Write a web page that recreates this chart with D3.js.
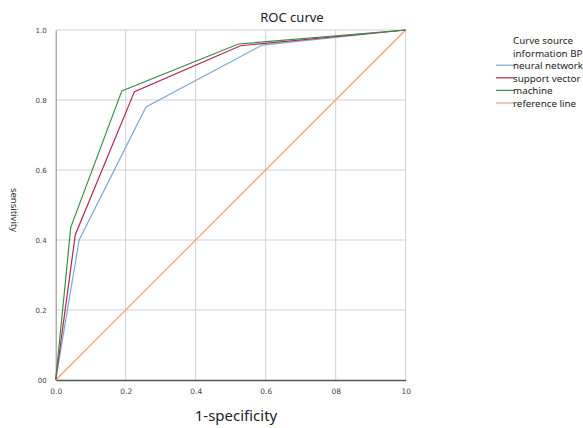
<!DOCTYPE html>
<html>
<head>
<meta charset="utf-8">
<script src="https://cdn.jsdelivr.net/npm/d3@7"></script>
<style>
  html, body { margin: 0; padding: 0; background: #fff; }
  svg { display: block; font-family: "Noto Sans", "Open Sans", sans-serif; }
</style>
</head>
<body>
<div id="chart"></div>
<script>
// ROC curve values
const neuralNet = [[0, 0], [0.067, 0.40], [0.258, 0.78], [0.59, 0.957], [1, 1]];
const supportVec = [[0, 0], [0.056, 0.415], [0.225, 0.824], [0.528, 0.955], [1, 1]];
const machine = [[0, 0], [0.043, 0.436], [0.189, 0.826], [0.522, 0.96], [1, 1]];
const referenceLine = [[0, 0], [1, 1]];
const tickValues = [0, 0.2, 0.4, 0.6, 0.8, 1.0];
const xTickLabels = ["0.0", "0.2", "0.4", "0.6", "08", "10"];
const yTickLabels = ["00", "0.2", "0.4", "0.6", "0.8", "1.0"];
const legendTitle = ["Curve source", "information BP"];
const legendItems = ["neural network", "support vector", "machine", "reference line"];

const width = 583, height = 428;
const svg = d3.select("#chart").append("svg")
  .attr("width", width).attr("height", height);

const x = d3.scaleLinear().domain([0, 1]).range([55.7, 405.7]);
const y = d3.scaleLinear().domain([0, 1]).range([380, 30]);

// grid
const grid = svg.append("g");
grid.selectAll("line.v").data(tickValues.slice(1)).join("line")
  .attr("x1", d => x(d)).attr("x2", d => x(d))
  .attr("y1", y(0)).attr("y2", y(1))
  .attr("stroke", "#d0d0d0").attr("stroke-width", 1);
grid.selectAll("line.h").data(tickValues.slice(1)).join("line")
  .attr("x1", x(0)).attr("x2", x(1))
  .attr("y1", d => y(d)).attr("y2", d => y(d))
  .attr("stroke", "#d0d0d0").attr("stroke-width", 1);

// axes
const xAxis = svg.append("g")
  .attr("transform", `translate(0,${y(0)})`)
  .call(d3.axisBottom(x).tickValues(tickValues).tickSize(0)
    .tickFormat((d, i) => xTickLabels[i]));
xAxis.select(".domain").attr("stroke", "#555").attr("stroke-width", 1.3);
xAxis.selectAll("text").attr("dy", "1.5em").attr("font-size", 7.5).attr("fill", "#444")
  .attr("font-family", "DejaVu Sans");

const yAxis = svg.append("g")
  .attr("transform", `translate(${x(0)},0)`)
  .call(d3.axisLeft(y).tickValues(tickValues).tickSize(0)
    .tickFormat((d, i) => yTickLabels[i]));
yAxis.select(".domain").attr("stroke", "#888").attr("stroke-width", 1);
yAxis.selectAll("text").attr("x", -9).attr("font-size", 7).attr("fill", "#444")
  .attr("font-family", "DejaVu Sans");

// curves
const line = d3.line().x(d => x(d[0])).y(d => y(d[1]));
const curves = [
  { data: referenceLine, color: "#e9a27f" },
  { data: neuralNet, color: "#7fa7d3" },
  { data: supportVec, color: "#b32652" },
  { data: machine, color: "#3d8f45" }
];
svg.append("g").selectAll("path").data(curves).join("path")
  .attr("d", d => line(d.data))
  .attr("fill", "none")
  .attr("stroke", d => d.color)
  .attr("stroke-width", 1.2);

// titles
svg.append("text").attr("x", 292).attr("y", 22)
  .attr("text-anchor", "middle").attr("font-size", 13).attr("fill", "#222")
  .text("ROC curve");
svg.append("text").attr("x", 236).attr("y", 421)
  .attr("text-anchor", "middle").attr("font-size", 15).attr("fill", "#222")
  .text("1-specificity");
svg.append("text")
  .attr("transform", `translate(11,210) rotate(90)`)
  .attr("text-anchor", "middle").attr("font-size", 9.5).attr("fill", "#333")
  .text("sensitivity");

// legend
const legend = svg.append("g").attr("font-size", 9.8).attr("fill", "#222");
const rowStep = 12.6;
legend.selectAll("text.title").data(legendTitle).join("text")
  .attr("x", 513).attr("y", (d, i) => 44 + i * rowStep)
  .text(d => d);
const legendColors = ["#7fa7d3", "#b32652", "#3d8f45", "#e9a27f"];
const rowY = i => 44 + (i + 2) * rowStep;
legend.selectAll("line").data(legendItems).join("line")
  .attr("x1", 496).attr("x2", 514)
  .attr("y1", (d, i) => rowY(i) - 4).attr("y2", (d, i) => rowY(i) - 4)
  .attr("stroke", (d, i) => legendColors[i]).attr("stroke-width", 1.2);
legend.selectAll("text.item").data(legendItems).join("text")
  .attr("x", 513).attr("y", (d, i) => rowY(i))
  .text(d => d);
</script>
</body>
</html>
